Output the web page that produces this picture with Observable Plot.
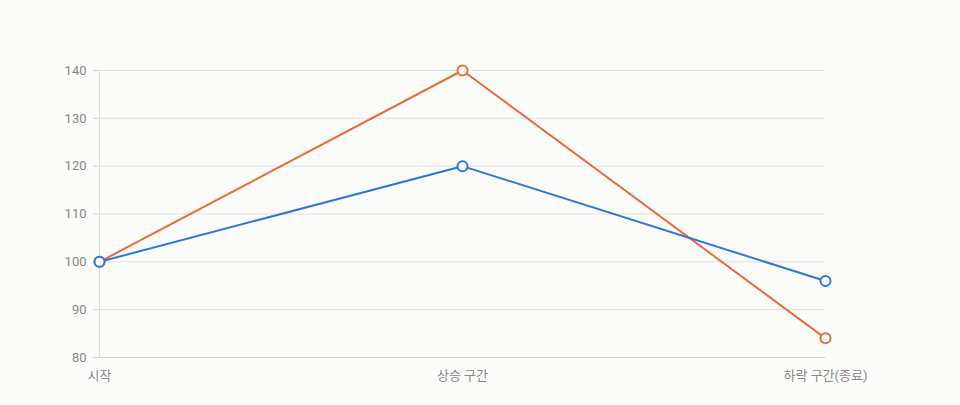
<!DOCTYPE html>
<html><head><meta charset="utf-8">
<script src="https://cdn.jsdelivr.net/npm/d3@7"></script>
<script src="https://cdn.jsdelivr.net/npm/@observablehq/plot@0.6"></script>
<style>
html,body{margin:0;padding:0;background:#fcfcfb;}
#chart{width:960px;height:405px;}
</style></head>
<body><div id="chart"></div>
<script>
const categories = ["시작", "상승 구간", "하락 구간(종료)"];
const blueValues = [100, 120, 96];
const orangeValues = [100, 140, 84];
const yTicks = [80, 90, 100, 110, 120, 130, 140];

const rows = [];
categories.forEach((c, i) => rows.push({cat: c, v: orangeValues[i], s: "orange"}));
categories.forEach((c, i) => rows.push({cat: c, v: blueValues[i], s: "blue"}));
const orange = rows.filter(d => d.s === "orange");
const blue = rows.filter(d => d.s === "blue");
const BLUE = "#2b78d8", ORANGE = "#ea6a3a";

const chart = Plot.plot({
  width: 960, height: 405,
  marginLeft: 98, marginRight: 135, marginTop: 70, marginBottom: 48,
  style: {background: "#fcfcfb", fontFamily: "Roboto, 'Noto Sans CJK KR', sans-serif", fontSize: "13px", color: "#888"},
  x: {type: "point", domain: categories, padding: 0, label: null},
  y: {domain: [80, 140], ticks: yTicks, label: null},
  marks: [
    Plot.gridY(yTicks, {stroke: "#e2e2e0", strokeOpacity: 1}),
    Plot.ruleX([categories[0]], {stroke: "#dcdcda"}),
    Plot.ruleY([80], {stroke: "#cfcfcd"}),
    Plot.axisY(yTicks, {tickSize: 5, tickPadding: 7, stroke: "#d5d5d3", fill: "#888", fontSize: 13}),
    Plot.axisX({tickSize: 0, tickPadding: 13, fill: "#888", fontSize: 13}),
    Plot.line(orange, {x: "cat", y: "v", stroke: ORANGE, strokeWidth: 2}),
    Plot.line(blue, {x: "cat", y: "v", stroke: BLUE, strokeWidth: 2}),
    Plot.dot(orange, {x: "cat", y: "v", r: 5, stroke: ORANGE, strokeWidth: 2, fill: "#fcfcfb"}),
    Plot.dot(blue, {x: "cat", y: "v", r: 5, stroke: BLUE, strokeWidth: 2, fill: "#fcfcfb"})
  ]
});
document.getElementById("chart").appendChild(chart);
</script></body></html>
